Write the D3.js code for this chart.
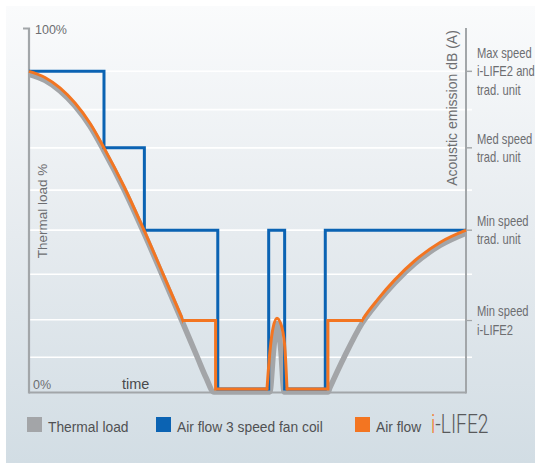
<!DOCTYPE html>
<html>
<head>
<meta charset="utf-8">
<script src="https://cdn.jsdelivr.net/npm/d3@7"></script>
<style>
  body { margin: 0; background: #fff; }
  svg { display: block; }
  text { font-family: "Liberation Sans", Arial, sans-serif; }
</style>
</head>
<body>
<svg id="chart"></svg>
<script>
// thermal load curve (time 0-100, load %)
var thermalTime = [0, 3.66, 7.09, 10.53, 13.96, 17.16, 21.74, 26.32, 30.66, 35.24, 38.67, 40.50, 42.33,
  55.1, 56.0, 56.8, 57.6, 58.4, 68.42, 68.88, 72.31, 76.2, 79.86, 83.75, 88.33, 94.05, 100];
var thermalLoad = [88.0, 86.3, 83.4, 79.2, 73.6, 66.8, 56.1, 44.0, 31.9, 19.0, 9.2, 4.0, 0,
  0, 12.0, 19.0, 12.0, 0, 0, 1.25, 10.1, 19.0, 24.9, 30.3, 35.6, 40.6, 44.0];

// air flow 3 speed fan coil (step after)
var fanTime = [0, 17.16, 26.4, 43.2, 54.85, 58.5, 67.8, 100];
var fanFlow = [88.0, 66.8, 44.0, 0, 44.0, 0, 44.0, 44.0];

// air flow i-LIFE2: follows thermal load before / after these times, steps in between
var lifeFollowEnd = 35.24;
var lifeFollowStart = 76.2;
var lifeStepTime = [35.24, 42.7, 42.7, 54.46];
var lifeStepFlow = [19.0, 19.0, 0, 0];
var lifeBumpTime = [54.46, 55.15, 55.84, 56.75, 57.9, 58.6, 59.04];
var lifeBumpFlow = [0, 10.6, 16.9, 19.6, 16.9, 10.6, 0];
var lifeStep2Time = [59.04, 68.4, 68.4, 76.2];
var lifeStep2Flow = [0, 0, 19.0, 19.0];

// grid lines and right axis levels
var gridLevels = [8.8, 19.2, 31.8, 44.0, 55.1, 66.8, 77.4, 88.0];
var speedLevels = [88.0, 66.8, 44.0, 19.0];
var speedLabels = [["Max speed", "i-LIFE2 and", "trad. unit"], ["Med speed", "trad. unit"],
  ["Min speed", "trad. unit"], ["Min speed", "i-LIFE2"]];

var legendNames = ["Thermal load", "Air flow 3 speed fan coil", "Air flow"];
var legendColors = ["#a3a5a8", "#0b63b3", "#f37521"];

var W = 535, H = 463;
var svg = d3.select("#chart").attr("width", W).attr("height", H);

var defs = svg.append("defs");
var grad = defs.append("linearGradient").attr("id", "bg").attr("x1", 0).attr("y1", 0).attr("x2", 0).attr("y2", 1);
grad.append("stop").attr("offset", "0%").attr("stop-color", "#fafbfc");
grad.append("stop").attr("offset", "50%").attr("stop-color", "#e6ebef");
grad.append("stop").attr("offset", "100%").attr("stop-color", "#d2dde4");

svg.append("rect").attr("x", 6).attr("y", 6).attr("width", W - 6).attr("height", H - 6).attr("fill", "url(#bg)");

var x = d3.scaleLinear().domain([0, 100]).range([29, 466]);
var y = d3.scaleLinear().domain([0, 100]).range([389, 28]);

// grid
svg.selectAll(".grid").data(gridLevels).join("line").attr("class", "grid")
  .attr("x1", 29).attr("x2", 472)
  .attr("y1", d => y(d)).attr("y2", d => y(d))
  .attr("stroke", "#fff").attr("stroke-width", 1.6);

var axisColor = "#a2a6a9";
// left axis
svg.append("path").attr("d", "M23,28.5H29V393.5").attr("fill", "none").attr("stroke", axisColor).attr("stroke-width", 2.2);
// bottom axis
svg.append("line").attr("x1", 29).attr("x2", 466).attr("y1", 392.5).attr("y2", 392.5).attr("stroke", axisColor).attr("stroke-width", 2.2);
// right axis
svg.append("line").attr("x1", 466).attr("x2", 466).attr("y1", 28).attr("y2", 393.5).attr("stroke", axisColor).attr("stroke-width", 2);
svg.selectAll(".rtick").data(speedLevels).join("line").attr("class", "rtick")
  .attr("x1", 466).attr("x2", 472).attr("y1", d => y(d)).attr("y2", d => y(d))
  .attr("stroke", axisColor).attr("stroke-width", 1.5);

// right labels, condensed
var labelG = svg.selectAll(".rlab").data(speedLabels).join("text").attr("class", "rlab")
  .attr("transform", (d, i) => "translate(477," + (y(speedLevels[i]) + 5 - (d.length - 1) * 9.25) + ") scale(0.8,1)")
  .attr("fill", "#6d6e71")
  .style("font-size", "14px");
labelG.selectAll("tspan").data(d => d).join("tspan")
  .attr("x", 0).attr("dy", (d, i) => i == 0 ? 0 : 18.5).text(d => d);

// lines
var thermal = thermalTime.map((t, i) => [t, thermalLoad[i]]);
var curveLine = d3.line().x(d => x(d[0])).y(d => y(d[1])).curve(d3.curveMonotoneX);
var linear = d3.line().x(d => x(d[0])).y(d => y(d[1]));

svg.append("path").attr("d", curveLine(thermal)).attr("transform", "translate(0,3)")
  .attr("fill", "none").attr("stroke", "#a3a5a8").attr("stroke-width", 5.5);

var fan = fanTime.map((t, i) => [t, fanFlow[i]]);
svg.append("path").attr("d", d3.line().x(d => x(d[0])).y(d => y(d[1])).curve(d3.curveStepAfter)(fan))
  .attr("fill", "none").attr("stroke", "#0b63b3").attr("stroke-width", 3);

var orange = "#f37521";
var clip = defs.append("clipPath").attr("id", "follow");
clip.append("rect").attr("x", 0).attr("y", 0).attr("width", x(lifeFollowEnd)).attr("height", H);
clip.append("rect").attr("x", x(lifeFollowStart)).attr("y", 0).attr("width", W).attr("height", H);
svg.append("path").attr("d", curveLine(thermal)).attr("clip-path", "url(#follow)")
  .attr("fill", "none").attr("stroke", orange).attr("stroke-width", 3);

var step1 = lifeStepTime.map((t, i) => [t, lifeStepFlow[i]]);
var step2 = lifeStep2Time.map((t, i) => [t, lifeStep2Flow[i]]);
var bump = lifeBumpTime.map((t, i) => [t, lifeBumpFlow[i]]);
[linear(step1), curveLine(bump), linear(step2)].forEach(function(dd) {
  svg.append("path").attr("d", dd).attr("fill", "none").attr("stroke", orange)
    .attr("stroke-width", 3).attr("stroke-linecap", "round");
});

// axis texts
svg.append("text").attr("x", 35).attr("y", 33.5).attr("fill", "#6d6e71").style("font-size", "12.5px").text("100%");
svg.append("text").attr("x", 33).attr("y", 389).attr("fill", "#6d6e71").style("font-size", "12.5px").text("0%");
svg.append("text").attr("x", 122).attr("y", 389).attr("fill", "#4a4a4c").style("font-size", "14.5px").text("time");
svg.append("text").attr("transform", "translate(47,211) rotate(-90)").attr("text-anchor", "middle")
  .attr("fill", "#6d6e71").style("font-size", "13.5px").text("Thermal load %");
svg.append("text").attr("transform", "translate(457,108) rotate(-90)").attr("text-anchor", "middle")
  .attr("fill", "#6d6e71").style("font-size", "14px").text("Acoustic emission dB (A)");

// legend
var legX = [27, 156, 355];
svg.selectAll(".lsq").data(legendNames).join("rect").attr("class", "lsq")
  .attr("x", (d, i) => legX[i]).attr("y", 417).attr("width", 15).attr("height", 15)
  .attr("fill", (d, i) => legendColors[i]);
svg.selectAll(".ltx").data(legendNames).join("text").attr("class", "ltx")
  .attr("x", (d, i) => legX[i] + 21).attr("y", 432)
  .attr("fill", "#505153").style("font-size", "13.8px").text(d => d);
var brand = svg.append("text").attr("transform", "translate(431,432.5) scale(0.74,1)")
  .style("font-family", "Roboto, sans-serif")
  .style("font-size", "26px").style("font-weight", "300");
brand.append("tspan").attr("fill", orange).text("i");
brand.append("tspan").attr("fill", "#58595b").text("-LIFE2");
</script>
</body>
</html>
